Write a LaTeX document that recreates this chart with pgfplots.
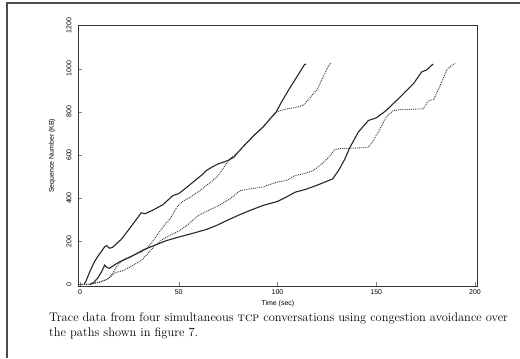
\documentclass[border=0pt]{standalone}
\usepackage{pgfplots}
\pgfplotsset{compat=1.18}
\usepackage{fontspec}
\setsansfont{Liberation Sans}
\begin{document}
\begin{tikzpicture}[x=1bp,y=1bp]
\path[use as bounding box] (0,0) rectangle (520,-358);
\draw[line width=1.2bp, black!70] (7,-358) -- (7,-3) -- (520,-3);
\begin{axis}[
  at={(78bp,-286bp)}, anchor=south west,
  scale only axis, width=399bp, height=260.5bp,
  xmin=-1, xmax=201, ymin=-7, ymax=1200,
  xtick={0,50,100,150,200}, ytick={0,200,400,600,800,1000,1200},
  tick align=inside, major tick length=4bp,
  xtick pos=left, ytick pos=left,
  axis line style={line width=0.6bp, black!80},
  /pgf/number format/assume math mode=true,
  /pgf/number format/1000 sep={},
  tick label style={font=\sffamily\fontsize{7}{8}\selectfont},
  yticklabel style={xshift=-3bp, rotate=90, anchor=south},
  xlabel={Time (sec)}, ylabel={Sequence Number (KB)},
  label style={font=\sffamily\fontsize{7}{8}\selectfont},
  xlabel style={at={(axis description cs:0.501,-0.069)}, anchor=center},
  ylabel style={at={(axis description cs:-0.065,0.5)}, anchor=center},
  clip=false,
]
% A
\addplot[line width=1.1bp, black!85] coordinates {
(2,0) (3,15) (5,60) (7,100) (9,130) (11,155) (12.5,175) (13.5,180) (15,168) (16.5,172) (18,185) (21,210) (25,258) (28,295) (31,332) (33,328) (37,345) (42,370) (47,412) (50,421) (54,450) (58,480) (62,510) (64,528) (67,545) (70,559) (73,568) (75,575) (78,590) (80,613) (84,652) (88,690) (92.6,729) (96,765) (99.3,799) (102,845) (106,907) (110,965) (113.6,1018) (114.5,1022)};
% B
\addplot[line width=0.9bp, densely dotted, black!80] coordinates {
(3,0) (6,3) (10,12) (14,25) (16,40) (18,75) (20,100) (23,120) (27,135) (31,150) (34.5,173) (38,215) (42,266) (46,310) (49,358) (52,385) (56,405) (60,430) (64,459) (67,480) (70,505) (73,545) (76,583) (80,613) (84,652) (88,690) (92.6,729) (96,765) (99.6,799) (102,808) (106,815) (110,822) (113,830) (116,860) (120.3,907) (123,960) (126,1016) (127,1024)};
% C
\addplot[line width=0.9bp, densely dotted, black!80] coordinates {
(0,0) (5,2) (10,10) (14,25) (16,45) (18,55) (22,65) (25,80) (28,95) (31,111) (34,140) (38,181) (42,210) (46,230) (50.5,250) (55,280) (60,320) (65,343) (70,365) (76,397) (81,435) (86,443) (92.6,452) (100,475) (104.5,482) (109,505) (114,515) (118,528) (122,555) (126,590) (129,625) (132,630) (140,632) (146,636) (148,660) (151.5,714) (155,776) (158.6,806) (162,810) (168,812) (173.8,814) (176.4,853) (179,856) (182,915) (185.6,992) (188,1015) (190,1024)};
% D
\addplot[line width=1.1bp, black!85] coordinates {
(5,0) (7,10) (9,30) (11,60) (12.5,90) (13.5,80) (15,75) (17,88) (20,105) (25,125) (28,140) (32,160) (36,175) (40,190) (44,204) (50,220) (55,232) (59,242) (64,255) (69,273) (74,295) (80,320) (86,343) (92.6,366) (100,385) (105,408) (109,428) (114,440) (120,460) (126,482) (128,490) (131,530) (134,580) (136.7,636) (140.9,706) (146,760) (150,772) (155,806) (162,868) (168.8,930) (173,985) (175.5,994) (178.8,1022)};
\end{axis}
\node[anchor=base west, inner sep=0pt, font=\fontsize{12.5}{14}\selectfont] at (49,-321) {Trace data from four simultaneous \textsc{tcp} conversations using congestion avoidance over};
\node[anchor=base west, inner sep=0pt, font=\fontsize{12.5}{14}\selectfont] at (49,-336) {the paths shown in figure 7.};
\end{tikzpicture}
\end{document}
